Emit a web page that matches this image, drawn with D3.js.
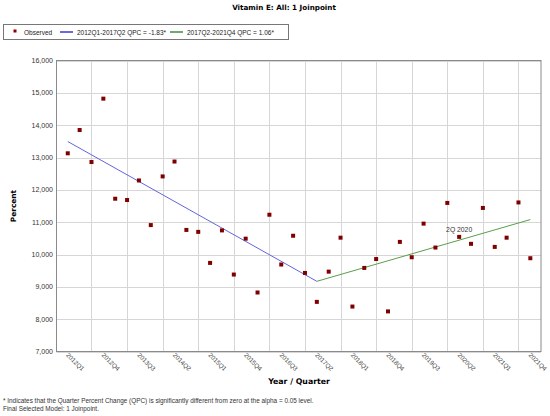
<!DOCTYPE html>
<html>
<head>
<meta charset="utf-8">
<script src="https://cdn.jsdelivr.net/npm/d3@7/dist/d3.min.js"></script>
<style>
  html, body { margin: 0; padding: 0; background: #fff; }
  svg { display: block; }
</style>
</head>
<body>
<svg id="chart" width="550" height="416"></svg>
<script>
// ---------- DATA ----------
const quarters = [
  "2012Q1","2012Q2","2012Q3","2012Q4","2013Q1","2013Q2","2013Q3","2013Q4",
  "2014Q1","2014Q2","2014Q3","2014Q4","2015Q1","2015Q2","2015Q3","2015Q4",
  "2016Q1","2016Q2","2016Q3","2016Q4","2017Q1","2017Q2","2017Q3","2017Q4",
  "2018Q1","2018Q2","2018Q3","2018Q4","2019Q1","2019Q2","2019Q3","2019Q4",
  "2020Q1","2020Q2","2020Q3","2020Q4","2021Q1","2021Q2","2021Q3","2021Q4"
];
const observed = [
  13130, 13850, 12860, 14820, 11725, 11685, 12290, 10910,
  12415, 12875, 10760, 10700,  9740, 10745,  9380, 10490,
   8825, 11230,  9690, 10580,  9430,  8535,  9470, 10520,
   8390,  9585,  9860,  8240, 10390,  9915, 10955, 10215,
  11595, 10545, 10330, 11440, 10235, 10520, 11610,  9885
];
// Joinpoint fitted segments: [quarter label, fitted value]
const segment1 = [["2012Q1", 13494], ["2017Q2", 9170]];
const segment2 = [["2017Q2", 9170], ["2021Q4", 11080]];
const tickLabels = ["2012Q1","2012Q4","2013Q3","2014Q2","2015Q1","2015Q4","2016Q3",
  "2017Q2","2018Q1","2018Q4","2019Q3","2020Q2","2021Q1","2021Q4"];
const gridQuarters = ["2012Q3","2013Q2","2014Q1","2014Q4","2015Q3","2016Q2","2017Q1",
  "2017Q4","2018Q3","2019Q2","2020Q1","2020Q4","2021Q3"];
const yTicks = [7000, 8000, 9000, 10000, 11000, 12000, 13000, 14000, 15000, 16000];
const title = "Vitamin E: All: 1 Joinpoint";
const legendLabels = ["Observed", "2012Q1-2017Q2 QPC = -1.83*", "2017Q2-2021Q4 QPC = 1.06*"];
const annotation = { quarter: "2020Q2", text: "2Q 2020" };
const footnotes = [
  "* Indicates that the Quarter Percent Change (QPC) is significantly different from zero at the alpha = 0.05 level.",
  "Final Selected Model: 1 Joinpoint."
];

// ---------- LAYOUT ----------
const svg = d3.select("#chart");
const L = 56.5, R = 541, T = 60.5, B = 351.5;
const idx = q => quarters.indexOf(q);
const x = d3.scaleLinear().domain([-0.95, 39.9]).range([L, R]);
const y = d3.scaleLinear().domain([7000, 16000]).range([B, T]);
const smallFont = "'Liberation Sans', Arial, sans-serif";
const boldFont = "'DejaVu Sans', Verdana, sans-serif";

// Title
svg.append("text").attr("x", 284).attr("y", 10).attr("text-anchor", "middle")
  .style("font-family", boldFont).style("font-weight", "bold").style("font-size", "7.2px")
  .text(title);

// Legend
const lg = svg.append("g");
lg.append("rect").attr("x", 3.5).attr("y", 24.5).attr("width", 285).attr("height", 15)
  .attr("fill", "#fff").attr("stroke", "#777").attr("stroke-width", 1);
lg.append("rect").attr("x", 13.5).attr("y", 29.5).attr("width", 3).attr("height", 3).attr("fill", "#8b0000");
lg.append("line").attr("x1", 60).attr("x2", 73).attr("y1", 32).attr("y2", 32).attr("stroke", "#1a1ac8").attr("stroke-width", 1.3);
lg.append("line").attr("x1", 170).attr("x2", 183).attr("y1", 32).attr("y2", 32).attr("stroke", "#1f7a1f").attr("stroke-width", 1.3);
const legX = [24, 77, 187];
legendLabels.forEach((t, i) => {
  lg.append("text").attr("x", legX[i]).attr("y", 34.5)
    .style("font-family", smallFont).style("font-size", "6.5px").attr("fill", "#222").text(t);
});

// Gridlines
const g = svg.append("g");
g.selectAll(".hg").data(yTicks).enter().append("line")
  .attr("x1", L).attr("x2", R).attr("y1", d => Math.round(y(d)) + 0.5).attr("y2", d => Math.round(y(d)) + 0.5)
  .attr("stroke", "#d6d6d6").attr("stroke-width", 1);
g.selectAll(".vg").data(gridQuarters).enter().append("line")
  .attr("y1", T).attr("y2", B).attr("x1", d => Math.round(x(idx(d))) + 0.5).attr("x2", d => Math.round(x(idx(d))) + 0.5)
  .attr("stroke", "#d6d6d6").attr("stroke-width", 1);

// Border
svg.append("rect").attr("x", L).attr("y", T).attr("width", R - L).attr("height", B - T)
  .attr("fill", "none").attr("stroke", "#8a8a8a").attr("stroke-width", 1);

// Y axis labels
svg.selectAll(".yl").data(yTicks).enter().append("text")
  .attr("x", 53).attr("y", d => y(d) + 2.5).attr("text-anchor", "end")
  .style("font-family", smallFont).style("font-size", "7px").attr("fill", "#333")
  .text(d => d3.format(",")(d));

// X tick labels rotated
svg.selectAll(".xl").data(tickLabels).enter().append("text")
  .attr("transform", d => `translate(${x(idx(d)) - 2},${B + 4}) rotate(45)`)
  .attr("text-anchor", "start")
  .style("font-family", smallFont).style("font-size", "6.3px").attr("fill", "#444")
  .text(d => d);

// Axis titles
svg.append("text").attr("x", 299).attr("y", 384).attr("text-anchor", "middle")
  .style("font-family", boldFont).style("font-weight", "bold").style("font-size", "7.8px")
  .text("Year / Quarter");
svg.append("text").attr("transform", `translate(16,${(T + B) / 2}) rotate(-90)`).attr("text-anchor", "middle")
  .style("font-family", boldFont).style("font-weight", "bold").style("font-size", "7.4px")
  .text("Percent");

// Fitted lines
const line = d3.line().x(d => x(idx(d[0]))).y(d => y(d[1]));
svg.append("path").attr("d", line(segment1)).attr("fill", "none").attr("stroke", "#6464dc").attr("stroke-width", 1);
svg.append("path").attr("d", line(segment2)).attr("fill", "none").attr("stroke", "#5a9e4a").attr("stroke-width", 1);

// Observed points
svg.selectAll(".pt").data(observed).enter().append("rect")
  .attr("x", (d, i) => x(i) - 2).attr("y", d => y(d) - 2)
  .attr("width", 4).attr("height", 4).attr("fill", "#800000");

// Annotation
const ai = idx(annotation.quarter);
svg.append("text").attr("x", x(ai)).attr("y", y(observed[ai]) - 5).attr("text-anchor", "middle")
  .style("font-family", smallFont).style("font-size", "6.8px").attr("fill", "#333")
  .text(annotation.text);

// Footnotes
footnotes.forEach((t, i) => {
  svg.append("text").attr("x", 3).attr("y", 403 + i * 7.5)
    .style("font-family", smallFont).style("font-size", "6.4px").attr("fill", "#333").text(t);
});
</script>
</body>
</html>
